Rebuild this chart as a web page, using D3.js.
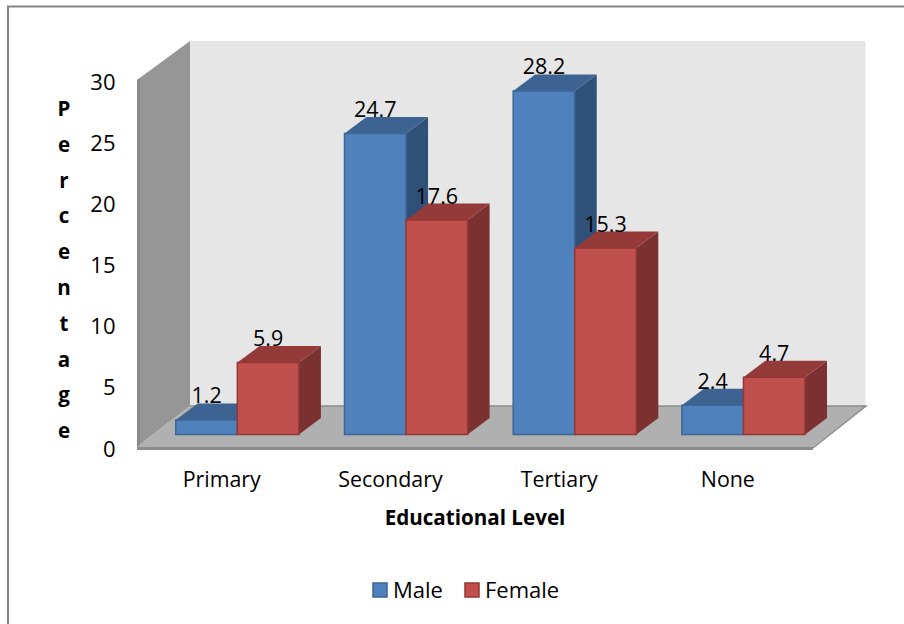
<!DOCTYPE html>
<meta charset="utf-8">
<style>
  body { margin: 0; background: #fff; }
  text { font-family: "Open Sans", "Noto Sans", sans-serif; fill: #000; }
</style>
<script src="https://d3js.org/d3.v7.min.js"></script>
<svg id="chart" width="904" height="624"></svg>

<script>
    var categories = ["Primary", "Secondary", "Tertiary", "None"];
    var seriesNames = ["Male", "Female"];
    var male = [1.2, 24.7, 28.2, 2.4];
    var female = [5.9, 17.6, 15.3, 4.7];
    var yTicks = [0, 5, 10, 15, 20, 25, 30];
    var yLetters = "Percentage".split("");

    var colors = {
        Male: { front: "#4f81bd", top: "#3c6391", side: "#2f5078", edge: "#3d6696" },
        Female: { front: "#c0504d", top: "#943b39", side: "#7a3130", edge: "#953735" }
    };

    var svg = d3.select("#chart");

    // frame
    svg.append("path")
        .attr("d", "M8,624V6.5H904")
        .attr("fill", "none")
        .attr("stroke", "#868686")
        .attr("stroke-width", 2);

    // depth of the 3d box and of the bars
    var wallDx = 53, wallDy = -41, wallTopDy = -39;
    var barDx = 22, barDy = -16.5;

    var yAxisScale = d3.scaleLinear().domain([0, 30]).range([447, 80]);
    var yBar = d3.scaleLinear().domain([0, 30]).range([434.5, 69]);

    var x0 = d3.scaleBand().domain(categories).range([153, 827.8]);
    var x1 = d3.scaleBand().domain(seriesNames).range([0, x0.bandwidth()]).paddingOuter(0.37);

    var left = 137, right = 813;
    var y0 = yAxisScale(0), y30 = yAxisScale(30);

    function poly(points, fill) {
        return svg.append("polygon")
            .attr("points", points.map(p => p.join(",")).join(" "))
            .attr("fill", fill);
    }

    // back wall, side wall, floor
    poly([[left + wallDx, y30 + wallTopDy], [865.5, y30 + wallTopDy], [865.5, y0 + wallDy], [left + wallDx, y0 + wallDy]], "#e6e6e6");
    poly([[left, y30], [left + wallDx, y30 + wallTopDy], [left + wallDx, y0 + wallDy], [left, y0]], "#969696");
    poly([[left, y30], [left + 3, y30 - 2], [left + 3, y0], [left, y0]], "#8a8a8a");
    poly([[left, y0], [left + wallDx, y0 + wallDy], [right + wallDx, y0 + wallDy], [right, y0]], "#b0b0b0");
    poly([[left, y0], [right, y0], [right, y0 + 3], [left, y0 + 3]], "#8c8c8c");
    svg.append("path")
        .attr("d", `M${left + wallDx},${y0 + wallDy}H${right + wallDx}L${right},${y0 + 1}`)
        .attr("fill", "none")
        .attr("stroke", "#8c8c8c")
        .attr("stroke-width", 1.5);

    // bars, each group male first so female covers its side
    categories.forEach((c, i) => {
        [male[i], female[i]].forEach((v, s) => {
            var name = seriesNames[s];
            var col = colors[name];
            var xa = x0(c) + x1(name), xb = xa + x1.bandwidth();
            var yt = yBar(v), yb = yBar(0);

            poly([[xb, yt], [xb + barDx, yt + barDy], [xb + barDx, yb + barDy], [xb, yb]], col.side);
            poly([[xa, yt], [xa + barDx, yt + barDy], [xb + barDx, yt + barDy], [xb, yt]], col.top);
            poly([[xa, yt], [xb, yt], [xb, yb], [xa, yb]], col.front)
                .attr("stroke", col.edge)
                .attr("stroke-width", 1.5);
        });
    });

    // value labels
    categories.forEach((c, i) => {
        [male[i], female[i]].forEach((v, s) => {
            var name = seriesNames[s];
            svg.append("text")
                .attr("x", x0(c) + x1(name) + x1.bandwidth() / 2)
                .attr("y", yBar(v) + barDy)
                .attr("text-anchor", "middle")
                .attr("font-size", 21.5)
                .text(v.toFixed(1));
        });
    });

    // y axis
    var yAxis = svg.append("g")
        .attr("transform", "translate(115.5,2)")
        .call(d3.axisLeft(yAxisScale).tickValues(yTicks).tickSize(0).tickPadding(0));
    yAxis.select(".domain").remove();
    yAxis.selectAll("text")
        .style("font-family", '"Open Sans", "Noto Sans", sans-serif')
        .style("font-size", "22px");

    // y title, one letter per line
    svg.append("g").selectAll("text")
        .data(yLetters)
        .enter().append("text")
        .attr("x", 64)
        .attr("y", (d, i) => 116 + i * 35.8)
        .attr("text-anchor", "middle")
        .attr("font-size", 20.5)
        .attr("font-weight", "bold")
        .text(d => d);

    // category labels
    svg.append("g").selectAll("text")
        .data(categories)
        .enter().append("text")
        .attr("x", d => x0(d) + x0.bandwidth() / 2 - 15.6)
        .attr("y", 487)
        .attr("text-anchor", "middle")
        .attr("font-size", 21.4)
        .text(d => d);

    svg.append("text")
        .attr("x", 475)
        .attr("y", 525)
        .attr("text-anchor", "middle")
        .attr("font-size", 20.6)
        .attr("font-weight", "bold")
        .text("Educational Level");

    // legend
    var legendX = [373, 465];
    seriesNames.forEach((name, i) => {
        svg.append("rect")
            .attr("x", legendX[i])
            .attr("y", 583)
            .attr("width", 14)
            .attr("height", 14)
            .attr("fill", colors[name].front)
            .attr("stroke", colors[name].edge)
            .attr("stroke-width", 1.5);
        svg.append("text")
            .attr("x", legendX[i] + 20)
            .attr("y", 597.5)
            .attr("font-size", 22)
            .text(name);
    });
</script>
